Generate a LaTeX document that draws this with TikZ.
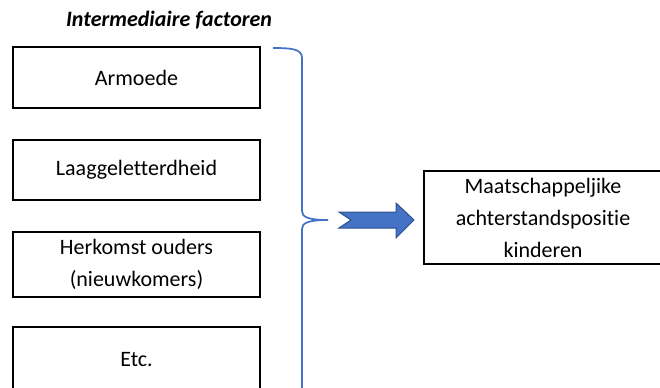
\documentclass[tikz,border=0pt]{standalone}
\usepackage{fontspec}
\setmainfont{Carlito}[Ligatures={NoCommon}]
\definecolor{officeblue}{RGB}{68,114,196}
\definecolor{officedark}{RGB}{47,82,143}
\tikzset{
  factor/.style={draw=black, line width=2.2pt, minimum width=185.25pt, align=center, inner sep=0pt, font=\fontsize{16.5}{24}\selectfont},
  outcome/.style={factor, minimum width=178.5pt, minimum height=69.75pt}
}
\begin{document}
\begin{tikzpicture}[x=0.75pt,y=0.75pt,yscale=-1,xscale=1]
    \useasboundingbox (0,0) rectangle (660,387);
    \clip (0,0) rectangle (660,387);

    % Text Node
    \node (title) at (169,20) [font=\fontsize{16.5}{20}\selectfont\bfseries\itshape] {Intermediaire factoren};

    %Shape: Rectangle
    \node [factor, minimum height=45.75pt] (armoede) at (136.5,77.5) {Armoede};
    %Shape: Rectangle
    \node [factor, minimum height=45pt] (laaggeletterdheid) at (136.5,170) {Laaggeletterdheid};
    %Shape: Rectangle
    \node [factor, minimum height=48.75pt] (herkomst) at (136.5,264.5) {Herkomst ouders\\(nieuwkomers)};
    %Shape: Rectangle
    \node [factor, minimum height=48.75pt] (etc) at (136.5,359.5) {Etc.};
    %Shape: Rectangle
    \node [outcome] (achterstand) at (543,217.5) {Maatschappeljike\\achterstandspositie\\kinderen};

    %Shape: Right Brace
    \coordinate (bracetip) at (328,220);
    \draw [color=officeblue, line width=1.3pt] (273,48) .. controls (292,48) and (302,49) .. (302,58) -- (302,211) .. controls (302,217) and (308,220) .. (bracetip) ;
    \draw [color=officeblue, line width=1.3pt] (bracetip) .. controls (308,220) and (302,223) .. (302,229) -- (302,395) ;

    %Shape: Notched Right Arrow
    \draw [color=officedark, fill=officeblue, line width=0.75pt] (339,212) -- (396,212) -- (396,203) -- (414,220) -- (396,238) -- (396,228) -- (339,228) -- (351,220) -- cycle ;

\end{tikzpicture}
\end{document}
